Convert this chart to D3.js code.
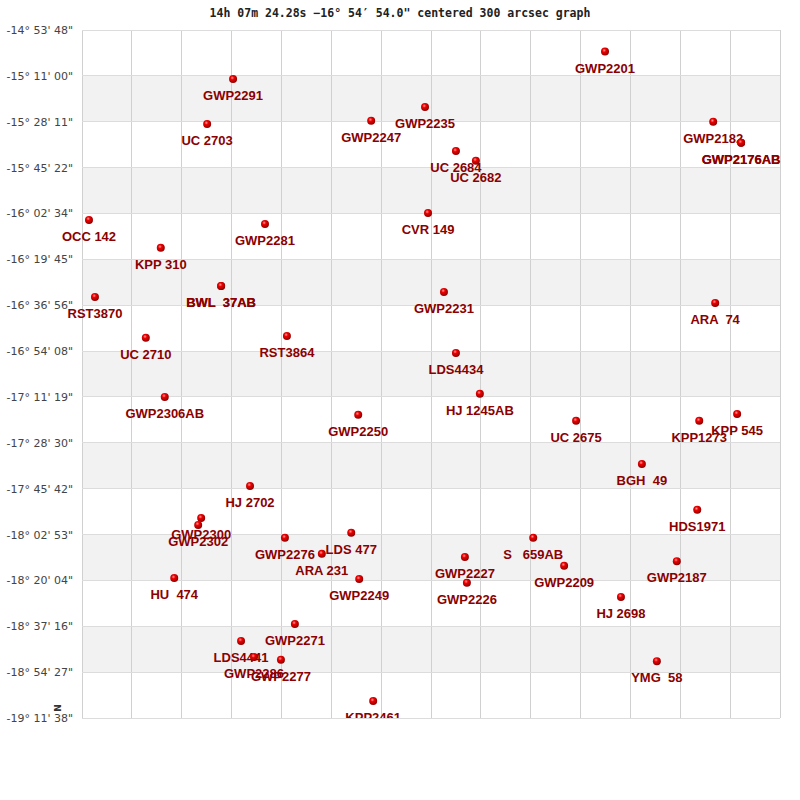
<!DOCTYPE html>
<html>
<head>
<meta charset="utf-8">
<script src="https://cdn.jsdelivr.net/npm/d3@7"></script>
<style>
  body { margin: 0; background: #fff; }
</style>
</head>
<body>
<svg id="chart"></svg>
<script>
// star names, x in grid columns (0-14), y in grid rows (0-15, top down)
const names = ["GWP2201", "GWP2291", "UC 2703", "GWP2247", "GWP2235", "UC 2684", "UC 2682", "GWP2182",
  "GWP2176AB", "GWP2176AB", "OCC 142", "GWP2281", "CVR 149", "KPP 310", "BWL  37AB", "BWL  37AB", "RST3870",
  "GWP2231", "ARA  74", "UC 2710", "RST3864", "LDS4434", "HJ 1245AB", "GWP2306AB", "GWP2250", "UC 2675",
  "KPP1273", "KPP 545", "BGH  49", "HJ 2702", "HDS1971", "GWP2300", "GWP2302", "GWP2276", "LDS 477",
  "ARA 231", "S   659AB", "GWP2227", "GWP2209", "GWP2187", "HU  474", "GWP2249", "GWP2226", "HJ 2698",
  "GWP2271", "LDS4441", "GWP2286", "GWP2277", "KPP2461", "YMG  58"];
const cols = [10.49, 3.03, 2.51, 5.80, 6.88, 7.50, 7.90, 12.66,
  13.22, 13.22, 0.14, 3.67, 6.94, 1.58, 2.79, 2.79, 0.26,
  7.26, 12.70, 1.28, 4.11, 7.50, 7.98, 1.66, 5.54, 9.91,
  12.38, 13.14, 11.23, 3.37, 12.34, 2.39, 2.33, 4.07, 5.40,
  4.81, 9.05, 7.68, 9.67, 11.93, 1.85, 5.56, 7.72, 10.81,
  4.27, 3.19, 3.45, 3.99, 5.84, 11.53];
const rows = [0.47, 1.07, 2.05, 1.98, 1.68, 2.64, 2.85, 2.00,
  2.46, 2.46, 4.14, 4.23, 3.99, 4.75, 5.58, 5.58, 5.82,
  5.71, 5.95, 6.71, 6.67, 7.04, 7.93, 8.00, 8.39, 8.52,
  8.52, 8.37, 9.46, 9.94, 10.46, 10.64, 10.79, 11.07, 10.96,
  11.42, 11.07, 11.49, 11.68, 11.58, 11.95, 11.97, 12.05, 12.36,
  12.95, 13.32, 13.67, 13.73, 14.63, 13.76];

const decLabels = ["-14° 53' 48\"", "-15° 11' 00\"", "-15° 28' 11\"", "-15° 45' 22\"", "-16° 02' 34\"",
  "-16° 19' 45\"", "-16° 36' 56\"", "-16° 54' 08\"", "-17° 11' 19\"", "-17° 28' 30\"", "-17° 45' 42\"",
  "-18° 02' 53\"", "-18° 20' 04\"", "-18° 37' 16\"", "-18° 54' 27\"", "-19° 11' 38\""];

const title = "14h 07m 24.28s \u221216\u00b0 54\u2032 54.0\" centered 300 arcsec graph";

const data = names.map((n, i) => ({ name: n, x: cols[i], y: rows[i] }));

const width = 800, height = 800;
const margin = { top: 30, right: 20, bottom: 82, left: 82 };

const svg = d3.select("#chart")
  .attr("width", width)
  .attr("height", height);

const x = d3.scaleLinear().domain([0, 14]).range([margin.left, width - margin.right]);
const y = d3.scaleLinear().domain([0, 15]).range([margin.top, height - margin.bottom]);

// alternating bands
svg.append("g").selectAll("rect")
  .data(d3.range(15).filter(i => i % 2 == 1))
  .join("rect")
  .attr("x", x(0))
  .attr("y", i => y(i))
  .attr("width", x(14) - x(0))
  .attr("height", y(1) - y(0))
  .attr("fill", "#f2f2f2");

// grid
svg.append("g").selectAll("line")
  .data(d3.range(15))
  .join("line")
  .attr("x1", d => x(d)).attr("x2", d => x(d))
  .attr("y1", y(0)).attr("y2", y(15))
  .attr("stroke", "#d0d0d0").attr("shape-rendering", "crispEdges");
svg.append("g").selectAll("line")
  .data(d3.range(16))
  .join("line")
  .attr("x1", x(0)).attr("x2", x(14))
  .attr("y1", d => y(d)).attr("y2", d => y(d))
  .attr("stroke", "#dcdcdc").attr("shape-rendering", "crispEdges");

// dec axis labels
const yAxis = d3.axisLeft(y)
  .tickValues(d3.range(16))
  .tickFormat(i => decLabels[i])
  .tickSize(0)
  .tickPadding(9);
svg.append("g")
  .attr("transform", `translate(${x(0)},0)`)
  .call(yAxis)
  .call(g => g.select(".domain").remove())
  .selectAll("text")
  .attr("dy", "0.32em")
  .attr("fill", "#444")
  .style("font-family", "DejaVu Sans")
  .style("font-size", "11px");

svg.append("text")
  .attr("transform", `translate(57, ${y(15) - 10}) rotate(90)`)
  .attr("text-anchor", "middle")
  .attr("dy", "0.35em")
  .style("font-family", "DejaVu Sans")
  .style("font-weight", "bold")
  .style("font-size", "9px")
  .attr("fill", "#333")
  .text("N");

svg.append("text")
  .attr("x", 400)
  .attr("y", 17)
  .attr("text-anchor", "middle")
  .style("font-family", "DejaVu Sans Mono")
  .style("font-weight", "bold")
  .style("font-size", "11.5px")
  .attr("fill", "#222")
  .text(title);

// sphere look for the stars
const grad = svg.append("defs").append("radialGradient")
  .attr("id", "ball").attr("cx", "40%").attr("cy", "35%").attr("r", "65%");
grad.append("stop").attr("offset", "0%").attr("stop-color", "#ff9a9a");
grad.append("stop").attr("offset", "35%").attr("stop-color", "#f00000");
grad.append("stop").attr("offset", "100%").attr("stop-color", "#8a0000");

svg.select("defs").append("clipPath").attr("id", "clip")
  .append("rect").attr("x", 0).attr("y", 0).attr("width", width).attr("height", y(15));

const plot = svg.append("g").attr("clip-path", "url(#clip)");

plot.selectAll("text.lbl")
  .data(data)
  .join("text")
  .attr("class", "lbl")
  .attr("x", d => x(d.x))
  .attr("y", d => y(d.y) + 21)
  .attr("text-anchor", "middle")
  .style("white-space", "pre")
  .style("font-family", "Liberation Sans, Arial")
  .style("font-weight", "bold")
  .style("font-size", "13px")
  .attr("fill", "#8b0000")
  .text(d => d.name);

plot.selectAll("circle")
  .data(data)
  .join("circle")
  .attr("cx", d => x(d.x))
  .attr("cy", d => y(d.y))
  .attr("r", 4)
  .attr("fill", "url(#ball)");
</script>
</body>
</html>
